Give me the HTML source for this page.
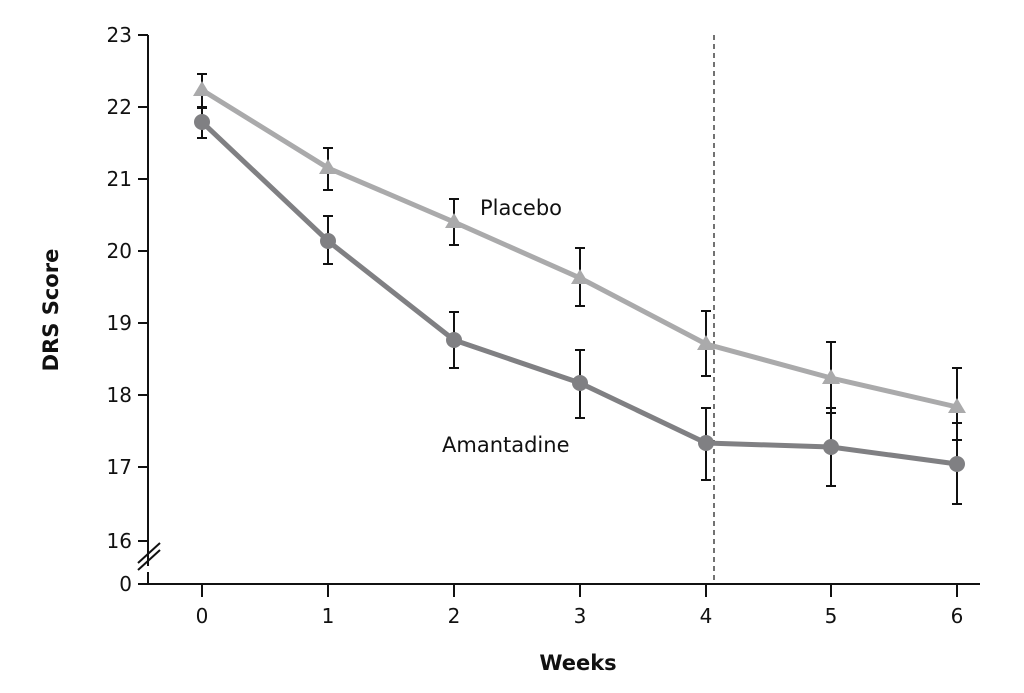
<!DOCTYPE html>
<html><head><meta charset="utf-8"><style>body{margin:0;background:#fff}svg{display:block}text{font-family:"DejaVu Sans","Liberation Sans",sans-serif;fill:#111}</style></head><body>
<svg width="1024" height="693" viewBox="0 0 1024 693">
<g stroke="#111" stroke-width="2" fill="none">
<line x1="148" y1="35" x2="148" y2="566"/>
<line x1="148" y1="572" x2="148" y2="585"/>
<line x1="138" y1="584" x2="980" y2="584"/>
<g>
<line x1="138" y1="35" x2="148" y2="35"/><line x1="138" y1="107" x2="148" y2="107"/><line x1="138" y1="179" x2="148" y2="179"/><line x1="138" y1="251" x2="148" y2="251"/><line x1="138" y1="323" x2="148" y2="323"/><line x1="138" y1="395" x2="148" y2="395"/><line x1="138" y1="467" x2="148" y2="467"/><line x1="138" y1="541" x2="148" y2="541"/>
</g>
<g>
<line x1="202" y1="584" x2="202" y2="597"/><line x1="328" y1="584" x2="328" y2="597"/><line x1="454" y1="584" x2="454" y2="597"/><line x1="580" y1="584" x2="580" y2="597"/><line x1="706" y1="584" x2="706" y2="597"/><line x1="831" y1="584" x2="831" y2="597"/><line x1="957" y1="584" x2="957" y2="597"/>
</g>
</g>
<line x1="138" y1="563" x2="160" y2="543" stroke="#111" stroke-width="2"/>
<line x1="138" y1="570" x2="160" y2="550" stroke="#111" stroke-width="2"/>
<line x1="714" y1="35" x2="714" y2="584" stroke="#444" stroke-width="1.5" stroke-dasharray="5,4"/>
<g font-size="20" text-anchor="end">
<text x="132" y="42">23</text><text x="132" y="114">22</text><text x="132" y="186">21</text><text x="132" y="258">20</text><text x="132" y="330">19</text><text x="132" y="402">18</text><text x="132" y="474">17</text><text x="132" y="548">16</text><text x="132" y="591">0</text>
</g>
<g font-size="20" text-anchor="middle">
<text x="202" y="623">0</text><text x="328" y="623">1</text><text x="454" y="623">2</text><text x="580" y="623">3</text><text x="706" y="623">4</text><text x="831" y="623">5</text><text x="957" y="623">6</text>
</g>
<text x="578" y="670" font-size="21" font-weight="bold" text-anchor="middle">Weeks</text>
<text transform="translate(58,310) rotate(-90)" font-size="21" font-weight="bold" text-anchor="middle">DRS Score</text>
<text x="480" y="215" font-size="21">Placebo</text>
<text x="442" y="452" font-size="21">Amantadine</text>
<g stroke="#111" stroke-width="2">
<path d="M202 74V108M197 74h10M197 108h10 M328 148V190M323 148h10M323 190h10 M454 199V245M449 199h10M449 245h10 M580 248V306M575 248h10M575 306h10 M706 311V376M701 311h10M701 376h10 M831 342V413M826 342h10M826 413h10 M957 368V440M952 368h10M952 440h10"/>
<path d="M202 107V138M197 107h10M197 138h10 M328 216V264M323 216h10M323 264h10 M454 312V368M449 312h10M449 368h10 M580 350V418M575 350h10M575 418h10 M706 408V480M701 408h10M701 480h10 M831 408V486M826 408h10M826 486h10 M957 423V504M952 423h10M952 504h10"/>
</g>
<polyline points="202,90 328,168 454,222 580,278 706,344 831,378 957,407" fill="none" stroke="#aaaaab" stroke-width="5"/>
<polyline points="202,122 328,241 454,340 580,383 706,443 831,447 957,464" fill="none" stroke="#808083" stroke-width="5"/>
<g fill="#aaaaab">
<path d="M202 81l9 15h-18z M328 159l9 15h-18z M454 213l9 15h-18z M580 269l9 15h-18z M706 335l9 15h-18z M831 369l9 15h-18z M957 398l9 15h-18z"/>
</g>
<g fill="#808083">
<circle cx="202" cy="122" r="8"/><circle cx="328" cy="241" r="8"/><circle cx="454" cy="340" r="8"/><circle cx="580" cy="383" r="8"/><circle cx="706" cy="443" r="8"/><circle cx="831" cy="447" r="8"/><circle cx="957" cy="464" r="8"/>
</g>
</svg>
</body></html>
